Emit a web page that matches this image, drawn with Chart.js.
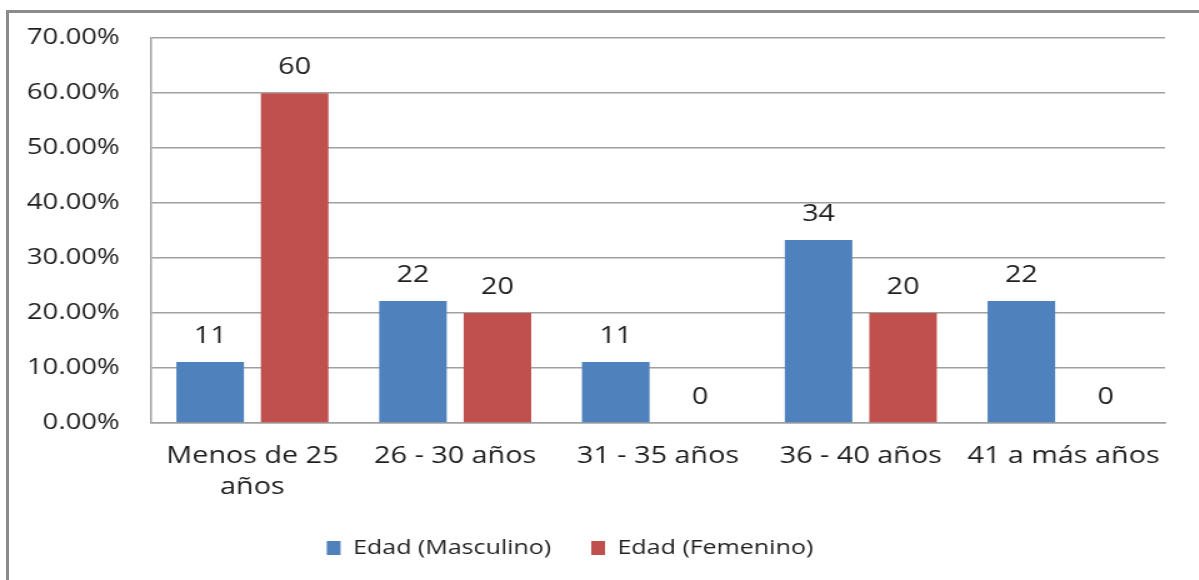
<!DOCTYPE html>
<html lang="es">
<head>
  <meta charset="UTF-8">
  <title>Edad por sexo</title>
  <script src="https://cdn.jsdelivr.net/npm/chart.js"></script>
  <style>
    html, body { margin: 0; padding: 0; background: #fff; }
    body { width: 1199px; height: 580px; overflow: hidden; position: relative; }
    #frame {
      position: absolute; left: 6px; top: 10px; width: 1300px; height: 700px;
      border-left: 3px solid #8c8c8c; border-top: 3px solid #8c8c8c;
    }
    /* the reference text is stretched wide, so the chart is drawn narrower and scaled */
    #wrap {
      position: absolute; left: 0; top: 0; width: 959px; height: 580px;
      transform: scaleX(1.25); transform-origin: 0 0;
    }
  </style>
</head>
<body>
  <div id="frame"></div>
  <div id="wrap"><canvas id="edadChart"></canvas></div>

  <script>
    // categories and values (percent)
    const categorias = [['Menos de 25', 'años'], '26 - 30 años', '31 - 35 años', '36 - 40 años', '41 a más años'];
    const masculino = [11.1, 22.2, 11.1, 33.3, 22.2];
    const femenino = [60, 20, 0, 20, 0];
    // labels printed above the bars
    const etiquetasMasculino = ['11', '22', '11', '34', '22'];
    const etiquetasFemenino = ['60', '20', '0', '20', '0'];
    const ticksY = [0, 10, 20, 30, 40, 50, 60, 70];

    const fuente = 'Open Sans';
    const gris = '#a0a0a0';
    const texto = '#1f1f1f';

    // draw the value labels over each bar
    const etiquetas = {
      id: 'etiquetas',
      afterDatasetsDraw(chart) {
        const ctx = chart.ctx;
        const listas = [etiquetasMasculino, etiquetasFemenino];
        ctx.save();
        ctx.font = '23px "' + fuente + '"';
        ctx.fillStyle = texto;
        ctx.textAlign = 'center';
        ctx.textBaseline = 'alphabetic';
        chart.data.datasets.forEach((ds, i) => {
          chart.getDatasetMeta(i).data.forEach((bar, j) => {
            ctx.fillText(listas[i][j], bar.x, bar.y - 19);
          });
        });
        ctx.restore();
      }
    };

    // legend sits a little left of the centre in the original
    const moverLeyenda = {
      id: 'moverLeyenda',
      afterLayout(chart) {
        if (chart.legend) {
          chart.legend.left -= 10;
          chart.legend.right -= 10;
        }
      }
    };

    const ctx = document.getElementById('edadChart').getContext('2d');
    new Chart(ctx, {
      type: 'bar',
      data: {
        labels: categorias,
        datasets: [{
          label: 'Edad (Masculino)',
          data: masculino,
          backgroundColor: '#4F81BD',
          categoryPercentage: 0.833,
          barPercentage: 0.8
        }, {
          label: 'Edad (Femenino)',
          data: femenino,
          backgroundColor: '#C0504D',
          categoryPercentage: 0.833,
          barPercentage: 0.8
        }]
      },
      plugins: [etiquetas, moverLeyenda],
      options: {
        responsive: true,
        maintainAspectRatio: false,
        animation: false,
        events: [],
        layout: { padding: { top: 38, left: 0, right: 27, bottom: 12 } },
        plugins: {
          tooltip: { enabled: false },
          legend: {
            position: 'bottom',
            labels: {
              boxWidth: 11,
              boxHeight: 14,
              padding: 32,
              color: texto,
              font: { family: fuente, size: 20 }
            }
          }
        },
        scales: {
          x: {
            grid: { display: false, drawTicks: false },
            border: { display: true, color: gris, width: 1.5 },
            ticks: {
              color: texto,
              padding: 18,
              maxRotation: 0,
              autoSkip: false,
              font: { family: fuente, size: 23, lineHeight: 1.36 }
            },
            afterFit(scale) { scale.height = 83; }
          },
          y: {
            min: 0,
            max: 70,
            afterBuildTicks(scale) { scale.ticks = ticksY.map(v => ({ value: v })); },
            grid: { color: gris, lineWidth: 1.5, drawTicks: false },
            border: { display: true, color: gris, width: 1.5 },
            ticks: {
              color: texto,
              padding: 25,
              font: { family: fuente, size: 22 },
              callback: v => v.toFixed(2) + '%'
            },
            afterFit(scale) { scale.width = 120.8; }
          }
        }
      }
    });
  </script>
</body>
</html>
